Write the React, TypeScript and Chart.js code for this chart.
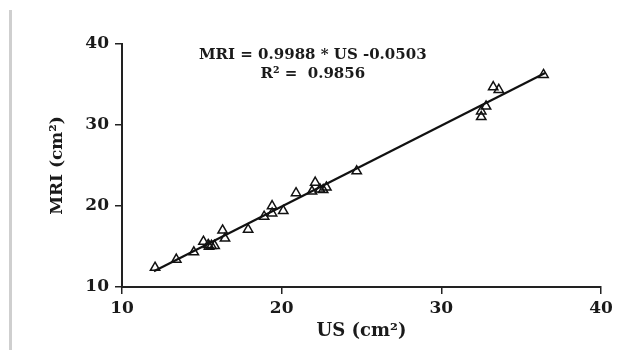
import React, { useEffect, useRef } from "react";
import { Chart, registerables } from "chart.js";

Chart.register(...registerables);

// Measured points: US (cm²) vs MRI (cm²)
const usValues = [
  12.07, 13.4, 14.5, 15.1, 15.4, 15.45, 15.6, 15.8, 16.3, 16.45, 17.9, 18.9,
  19.4, 19.4, 20.1, 20.9, 21.9, 22.1, 22.4, 22.6, 22.8, 24.7, 32.5, 32.5,
  32.8, 33.25, 33.6, 36.4,
];
const mriValues = [
  12.4, 13.4, 14.3, 15.6, 15.2, 15.0, 15.1, 15.1, 17.0, 16.0, 17.1, 18.7,
  20.0, 19.1, 19.4, 21.6, 21.8, 22.9, 22.05, 22.0, 22.3, 24.3, 31.7, 31.0,
  32.3, 34.7, 34.35, 36.2,
];

// Regression line endpoints (MRI = 0.9988 * US - 0.0503)
const fitX = [12.0, 36.5];
const fitY = [11.94, 36.41];

const xTicks = [10, 20, 30, 40];
const yTicks = [10, 20, 30, 40];

const equationLines = ["MRI = 0.9988 * US -0.0503", "R² =  0.9856"];

const FONT = "'DejaVu Serif', 'Liberation Serif', serif";

export default function App() {
  const ref = useRef<HTMLCanvasElement | null>(null);

  useEffect(() => {
    if (!ref.current) return;

    const decor = {
      id: "decor",
      beforeDraw(chart: any) {
        const ctx = chart.ctx;
        ctx.save();
        ctx.fillStyle = "#ffffff";
        ctx.fillRect(0, 0, chart.width, chart.height);
        ctx.fillStyle = "#cfcfcf";
        ctx.fillRect(9, 10, 3, 340);
        ctx.restore();
      },
      afterDraw(chart: any) {
        const ctx = chart.ctx;
        const xs = chart.scales.x;
        const ys = chart.scales.y;
        ctx.save();
        ctx.fillStyle = "#1a1a1a";
        ctx.font = `bold 15px ${FONT}`;
        ctx.textAlign = "center";
        ctx.textBaseline = "middle";
        const cx = xs.getPixelForValue(21.95);
        ctx.fillText(equationLines[0], cx, ys.getPixelForValue(38.64));
        ctx.fillText(equationLines[1], cx, ys.getPixelForValue(36.3));
        ctx.restore();
      },
    };

    const chart = new Chart(ref.current, {
      type: "scatter",
      data: {
        datasets: [
          {
            label: "Data",
            data: usValues.map((x, i) => ({ x, y: mriValues[i] })),
            pointStyle: "triangle",
            pointRadius: 5.4,
            pointBorderColor: "#111",
            pointBackgroundColor: "rgba(255,255,255,0)",
            pointBorderWidth: 1.5,
            showLine: false,
          },
          {
            label: "Fit",
            type: "line",
            data: fitX.map((x, i) => ({ x, y: fitY[i] })),
            borderColor: "#111",
            borderWidth: 2.2,
            pointRadius: 0,
            fill: false,
          } as any,
        ],
      },
      options: {
        responsive: true,
        maintainAspectRatio: false,
        animation: false,
        layout: { padding: { left: 0, right: 34, top: 44, bottom: 0 } },
        plugins: {
          legend: { display: false },
          tooltip: { enabled: false },
        },
        scales: {
          x: {
            type: "linear",
            min: 10,
            max: 40,
            afterFit(scale: any) {
              scale.height = 71;
            },
            afterBuildTicks(scale: any) {
              scale.ticks = xTicks.map((v) => ({ value: v }));
            },
            ticks: {
              color: "#1a1a1a",
              padding: 4,
              font: { family: FONT, size: 17, weight: "bold" },
            },
            grid: {
              display: true,
              drawOnChartArea: false,
              drawTicks: true,
              tickLength: 7,
              color: "#222",
              lineWidth: 1.5,
            },
            border: { display: true, color: "#222", width: 2 },
            title: {
              display: true,
              text: "US (cm²)",
              color: "#1a1a1a",
              font: { family: FONT, size: 18, weight: "bold" },
              padding: { top: 0, bottom: 16 },
            },
          },
          y: {
            type: "linear",
            min: 10,
            max: 40,
            afterFit(scale: any) {
              scale.width = 122;
            },
            afterBuildTicks(scale: any) {
              scale.ticks = yTicks.map((v) => ({ value: v }));
            },
            ticks: {
              color: "#1a1a1a",
              padding: 6,
              font: { family: FONT, size: 17, weight: "bold" },
            },
            grid: {
              display: true,
              drawOnChartArea: false,
              drawTicks: true,
              tickLength: 7,
              color: "#222",
              lineWidth: 1.5,
            },
            border: { display: true, color: "#222", width: 2 },
            title: {
              display: true,
              text: "MRI (cm²)",
              color: "#1a1a1a",
              font: { family: FONT, size: 17, weight: "bold" },
              padding: { top: 47, bottom: 0 },
            },
          },
        },
      },
      plugins: [decor],
    });

    return () => chart.destroy();
  }, []);

  return (
    <div style={{ position: "absolute", left: 0, top: 0, width: 635, height: 358 }}>
      <canvas ref={ref} />
    </div>
  );
}
